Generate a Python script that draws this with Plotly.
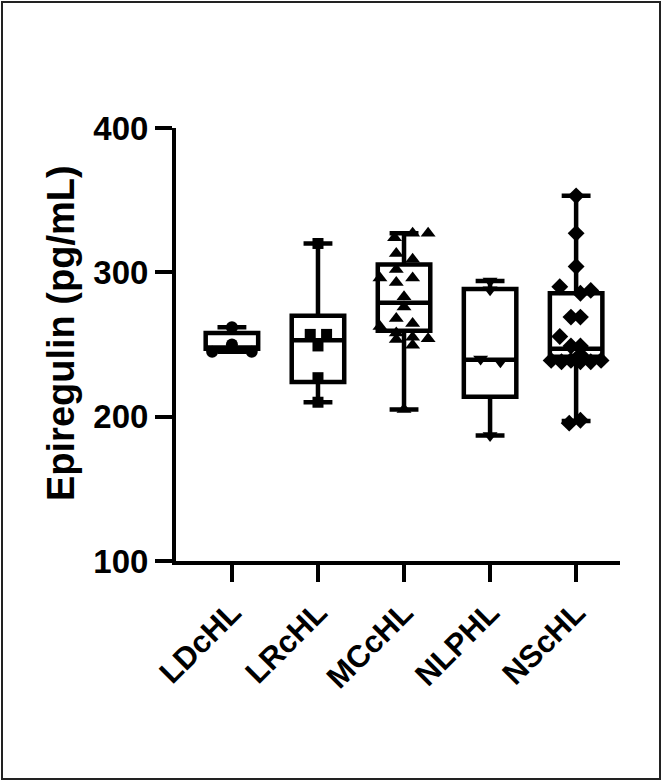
import plotly.graph_objects as go

# ---------------- data ----------------
categories = ["LDcHL", "LRcHL", "MCcHL", "NLPHL", "NScHL"]

# box statistics per category
q1_vals = [247, 224, 259.5, 213.8, 241.5]
median_vals = [248, 253, 279, 239.5, 247]
q3_vals = [258, 270, 305.5, 288.5, 285.5]
low_vals = [245, 210, 205, 187, 197]
high_vals = [262, 320, 327, 294, 353]

# individual observations (value, horizontal scatter offset within the group)
ldchl_y = [262, 250, 245, 245]
ldchl_dx = [0.0, 0.0, -0.23, 0.23]

lrchl_y = [320, 257, 257, 249, 227, 210]
lrchl_dx = [0.0, -0.09, 0.10, 0.0, 0.0, 0.0]

mcchl_y = [324, 327, 327, 313, 309, 302, 296, 293, 296, 283, 276, 268,
           262.5, 264.5, 258, 253.5, 255, 254, 249.5, 205]
mcchl_dx = [-0.11, 0.10, 0.28, -0.09, 0.10, -0.09, -0.28, -0.09, 0.10, 0.0, 0.0, -0.09,
            -0.28, 0.10, -0.09, -0.09, 0.10, 0.28, 0.10, 0.0]

nlphl_y = [294, 288, 240, 238, 187]
nlphl_dx = [0.0, 0.0, -0.11, 0.12, 0.0]

nschl_y = [353, 327, 304, 290, 285.5, 287.5, 269, 269, 255.5, 249, 249, 243,
           239, 238, 239, 238, 238, 239, 195.5, 197.5]
nschl_dx = [0.0, 0.0, 0.0, -0.19, 0.05, 0.17, -0.06, 0.05, -0.19, -0.06, 0.05, 0.05,
            -0.29, -0.17, -0.06, 0.05, 0.17, 0.29, -0.08, 0.05]

y_ticks = [100, 200, 300, 400]

# ---------------- figure ----------------
W, H = 662, 781
L, R, T, B = 176, 42, 128, 220
FONT = "Liberation Sans, Arial, Helvetica, sans-serif"

fig = go.Figure()

positions = list(range(len(categories)))
fig.add_trace(go.Box(
    x=positions, q1=q1_vals, median=median_vals, q3=q3_vals,
    lowerfence=low_vals, upperfence=high_vals,
    width=0.61, whiskerwidth=0.55,
    line=dict(color="black", width=4.5),
    fillcolor="rgba(0,0,0,0)", boxpoints=False, showlegend=False,
    hoverinfo="skip",
))

groups = [
    (ldchl_y, ldchl_dx, "circle", 12),
    (lrchl_y, lrchl_dx, "square", 11),
    (mcchl_y, mcchl_dx, "triangle-up", 13),
    (nlphl_y, nlphl_dx, "triangle-down", 13),
    (nschl_y, nschl_dx, "diamond", 13),
]
for i, (ys, dxs, sym, sz) in enumerate(groups):
    fig.add_trace(go.Scatter(
        x=[i + d for d in dxs], y=ys, mode="markers",
        marker=dict(symbol=sym, size=sz, color="black", line=dict(width=0)),
        showlegend=False, hoverinfo="skip",
    ))

axis_common = dict(
    showline=True, linecolor="black", linewidth=4,
    ticks="outside", ticklen=17, tickwidth=4, tickcolor="black",
    showgrid=False, zeroline=False,
)

fig.update_xaxes(
    range=[-0.65, 4.51], tickmode="array", tickvals=positions, ticktext=categories,
    tickangle=-45,
    tickfont=dict(family=FONT, size=31, color="black", weight="bold"),
    **axis_common,
)
fig.update_yaxes(
    range=[100, 400], tickmode="array", tickvals=y_ticks,
    tickfont=dict(family=FONT, size=33, color="black", weight="bold"),
    **axis_common,
)

pw, ph = W - L - R, H - T - B
def px(xp):
    return (xp - L) / pw
def py(yp):
    return (H - B - yp) / ph

fig.add_annotation(
    text="Epiregulin (pg/mL)", textangle=-90, showarrow=False,
    xref="paper", yref="paper", x=px(61), y=py(333), xanchor="center", yanchor="middle",
    font=dict(family=FONT, size=38, color="black", weight="bold"),
)

fig.add_shape(
    type="rect", xref="paper", yref="paper",
    x0=px(2), x1=px(660), y0=py(779), y1=py(2),
    line=dict(color="#222222", width=2), fillcolor="rgba(0,0,0,0)", layer="below",
)

fig.update_layout(
    width=W, height=H, margin=dict(l=L, r=R, t=T, b=B),
    paper_bgcolor="white", plot_bgcolor="white",
    font=dict(family=FONT, color="black"),
)

fig.write_html("out.html")
